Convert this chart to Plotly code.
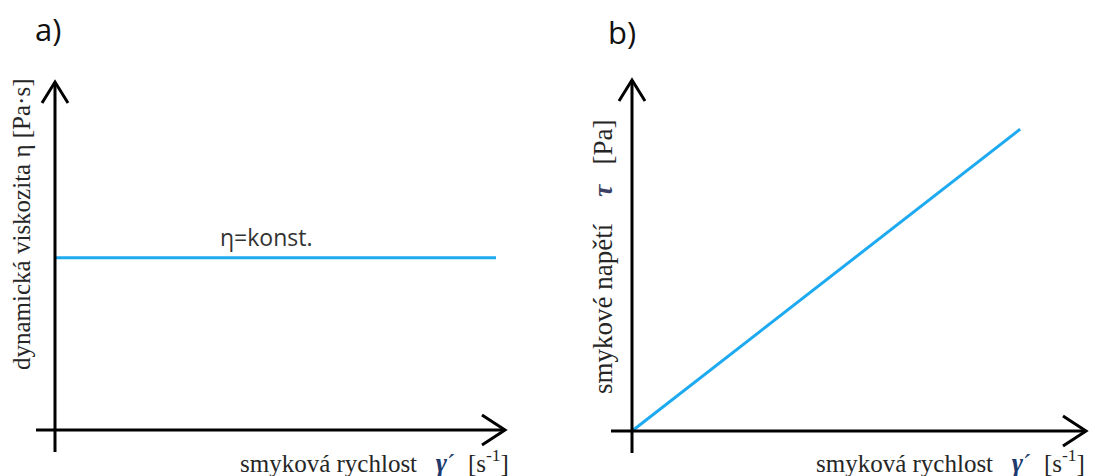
import plotly.graph_objects as go

# page body has an 8px margin: the figure is drawn from (8, 8) in the window
OFF = 8
REF_W, REF_H = 1097, 476
W, H = REF_W - OFF, REF_H - OFF

# ---- data ----
shear_rate_a = [0, 9.8]
viscosity_a = [4.95, 4.95]
shear_rate_b = [0, 8.55]
shear_stress_b = [0, 8.6]
axis_max = 10

# ---- layout geometry (reference window pixels) ----
panels = {
    "a": dict(ox=55, oy=430, xt=505, yt=82, dom=[0, 0.5], xneg=36, yneg=452, xa="x", ya="y"),
    "b": dict(ox=632, oy=431, xt=1086, yt=80, dom=[0.5, 1], xneg=611, yneg=453, xa="x2", ya="y2"),
}

fig = go.Figure()
BLUE = "#1eaaf0"

fig.add_trace(go.Scatter(x=shear_rate_a, y=viscosity_a, mode="lines",
                         line=dict(color=BLUE, width=3), xaxis="x", yaxis="y",
                         showlegend=False, hoverinfo="skip"))
fig.add_trace(go.Scatter(x=shear_rate_b, y=shear_stress_b, mode="lines",
                         line=dict(color=BLUE, width=3), xaxis="x2", yaxis="y2",
                         showlegend=False, hoverinfo="skip"))

shapes = []
layout_axes = {}
for key, p in panels.items():
    ox, oy = p["ox"] - OFF, p["oy"] - OFF
    xt, yt = p["xt"] - OFF, p["yt"] - OFF
    sx = (xt - ox) / axis_max
    sy = (oy - yt) / axis_max
    xr = [(p["dom"][0] * W - ox) / sx, (p["dom"][1] * W - ox) / sx]
    yr = [-(H - oy) / sy, oy / sy]
    xname = "xaxis" if p["xa"] == "x" else "xaxis2"
    yname = "yaxis" if p["ya"] == "y" else "yaxis2"
    layout_axes[xname] = dict(domain=p["dom"], range=xr, visible=False, anchor=p["ya"])
    layout_axes[yname] = dict(domain=[0, 1], range=yr, visible=False, anchor=p["xa"])
    ln = dict(color="black", width=3)
    shapes.append(dict(type="line", xref=p["xa"], yref=p["ya"],
                       x0=(p["xneg"] - p["ox"]) / sx, y0=0, x1=axis_max, y1=0, line=ln))
    shapes.append(dict(type="line", xref=p["xa"], yref=p["ya"],
                       x0=0, y0=-(p["yneg"] - p["oy"]) / sy, x1=0, y1=axis_max, line=ln))
    bx, hy = 23 / sx, 15 / sy
    shapes.append(dict(type="path", xref=p["xa"], yref=p["ya"],
                       path=f"M {axis_max-bx},{hy} L {axis_max},0 L {axis_max-bx},{-hy}",
                       line=ln))
    hx, by = 13 / sx, 21 / sy
    shapes.append(dict(type="path", xref=p["xa"], yref=p["ya"],
                       path=f"M {-hx},{axis_max-by} L 0,{axis_max} L {hx},{axis_max-by}",
                       line=ln))


def px(x, y):
    return (x - OFF) / W, 1 - (y - OFF) / H


annotations = []
SERIF = "Liberation Serif"
TXT = "#262626"
GAMMA = "<b><i><span style='color:#1f3a6e;font-size:27px'>γ</span></i></b><span style='color:#1f3a6e'>´</span>"
xtitle = ("smyková rychlost&nbsp;&nbsp;&nbsp;" + GAMMA +
          "&nbsp;&nbsp;[s<sup>-1</sup>]")

for cx, cy in [(374, 461), (950, 461)]:
    x, y = px(cx, cy)
    annotations.append(dict(text=xtitle, x=x, y=y, xref="paper", yref="paper",
                            xanchor="center", yanchor="middle", showarrow=False,
                            font=dict(family=SERIF, size=25, color=TXT)))

x, y = px(21, 225)
annotations.append(dict(text="dynamická viskozita η [Pa·s]", x=x, y=y, xref="paper", yref="paper",
                        xanchor="center", yanchor="middle", showarrow=False, textangle=-90,
                        font=dict(family=SERIF, size=25, color=TXT)))
x, y = px(603, 257)
annotations.append(dict(text="smykové napětí&nbsp;&nbsp;&nbsp;&nbsp;<b><i><span style='color:#3a3f63'>τ</span></i></b>&nbsp;&nbsp;&nbsp;[Pa]",
                        x=x, y=y, xref="paper", yref="paper",
                        xanchor="center", yanchor="middle", showarrow=False, textangle=-90,
                        font=dict(family=SERIF, size=27, color=TXT)))

x, y = px(266, 237)
annotations.append(dict(text="η=konst.", x=x, y=y, xref="paper", yref="paper",
                        xanchor="center", yanchor="middle", showarrow=False,
                        font=dict(family="Open Sans", size=23, color="#333333")))
for lbl, cx, cy in [("a)", 48, 29), ("b)", 622, 32)]:
    x, y = px(cx, cy)
    annotations.append(dict(text=lbl, x=x, y=y, xref="paper", yref="paper",
                            xanchor="center", yanchor="middle", showarrow=False,
                            font=dict(family="Open Sans", size=31, color="#111111")))

fig.update_layout(width=W, height=H, margin=dict(l=0, r=0, t=0, b=0),
                  plot_bgcolor="white", paper_bgcolor="white",
                  shapes=shapes, annotations=annotations, **layout_axes)

fig.write_html("out.html")
